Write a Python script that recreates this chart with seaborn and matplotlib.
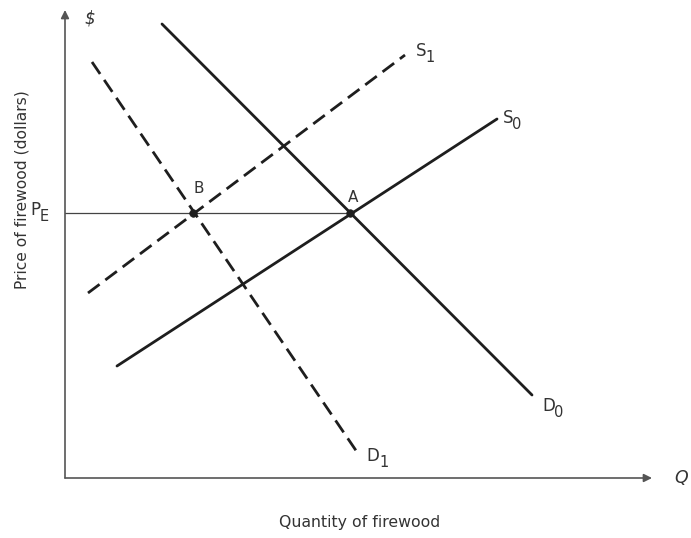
import numpy as np
import pandas as pd
import seaborn as sns
import matplotlib.pyplot as plt

# curve end points (quantity, price) in chart units
d0_q = [97, 467]
d0_p = [454, 83]
d1_q = [27, 292]
d1_p = [416, 26]
s0_q = [52, 432]
s0_p = [112, 359]
s1_q = [23, 340]
s1_p = [185, 423]

p_e = 265
eq_q = [128, 285]      # B, A
eq_names = ["B", "A"]

sns.set_theme(style="white")
plt.rcParams['font.family'] = ['DejaVu Sans']

fig = plt.figure(figsize=(6.91, 5.38), dpi=100)
ax = fig.add_axes([0, 0, 1, 1])
ax.set_xlim(-65, 626)
ax.set_ylim(-60, 478)
ax.axis('off')

line_col = '#1e1e1e'
txt_col = '#333333'
curves = pd.DataFrame({
    'q': d0_q + d1_q + s0_q + s1_q,
    'p': d0_p + d1_p + s0_p + s1_p,
    'curve': ['D0'] * 2 + ['D1'] * 2 + ['S0'] * 2 + ['S1'] * 2,
})
sns.lineplot(data=curves, x='q', y='p', hue='curve', style='curve',
             palette=[line_col] * 4,
             dashes={'D0': '', 'S0': '', 'D1': (5.2, 2.6), 'S1': (5.2, 2.6)},
             lw=2.0, sort=False, estimator=None, legend=False, ax=ax)

# axes with arrows
ax_col = '#555555'
ax.annotate('', xy=(0, 468), xytext=(0, 0),
            arrowprops=dict(arrowstyle='-|>', color=ax_col, lw=1.2,
                            mutation_scale=12, shrinkA=0, shrinkB=0))
ax.annotate('', xy=(587, 0), xytext=(0, 0),
            arrowprops=dict(arrowstyle='-|>', color=ax_col, lw=1.2,
                            mutation_scale=12, shrinkA=0, shrinkB=0))

# price line and equilibrium points
ax.plot([0, eq_q[1]], [p_e, p_e], color='#444444', lw=0.9)
sns.scatterplot(x=eq_q, y=[p_e, p_e], color=line_col, s=30, ax=ax,
                edgecolor=line_col, zorder=5)
ax.text(eq_q[0] + 6, p_e + 17, eq_names[0], fontsize=11, color=txt_col,
        ha='center', va='bottom')
ax.text(eq_q[1] + 3, p_e + 8, eq_names[1], fontsize=11, color=txt_col,
        ha='center', va='bottom')


def sub_label(x, y, main, sub, dx=8.5):
    ax.annotate(main, (x, y), fontsize=12, color=txt_col, ha='left', va='center')
    ax.annotate(sub, (x, y), xytext=(dx, -5), textcoords='offset points',
                fontsize=10.5, color=txt_col, ha='left', va='center')


# curve labels
sub_label(351, 427, 'S', '1', dx=6.8)
sub_label(438, 360, 'S', '0', dx=6.8)
sub_label(477, 72, 'D', '0', dx=8.8)
sub_label(301, 22, 'D', '1', dx=10)
sub_label(-35, p_e + 3, 'P', 'E', dx=6.8)

ax.text(25, 460, '$', fontsize=12, style='italic', color=txt_col,
        ha='center', va='center')
ax.text(616, 0, 'Q', fontsize=12.5, style='italic', color=txt_col,
        ha='center', va='center')

ax.text(295, -45, 'Quantity of firewood', fontsize=11.3, color=txt_col,
        ha='center', va='center')
ax.text(-43, 288, 'Price of firewood (dollars)', fontsize=11.2, color=txt_col,
        ha='center', va='center', rotation=90)

fig.savefig('out.png', dpi=100)
